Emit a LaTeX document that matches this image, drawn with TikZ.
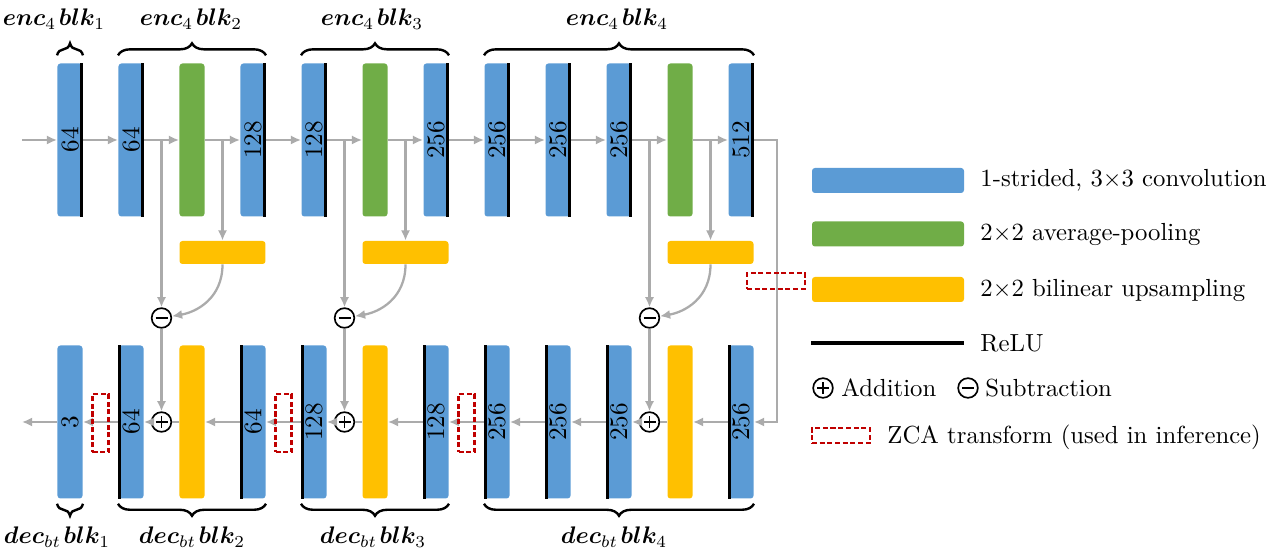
\documentclass[tikz,border=0pt]{standalone}
\usepackage{bm}
\usetikzlibrary{arrows.meta,decorations.pathreplacing}
\definecolor{cblue}{HTML}{5B9BD5}
\definecolor{cgreen}{HTML}{70AD47}
\definecolor{cyellow}{HTML}{FFC000}
\definecolor{cgrey}{HTML}{ABABAB}
\definecolor{cred}{HTML}{C00000}
\begin{document}
\begin{tikzpicture}[x=0.41667pt,y=-0.41667pt,
  bar/.style={rectangle, inner sep=0pt, minimum width=10.42pt, minimum height=63.75pt, rounded corners=1.2pt},
  convbar/.style={bar, fill=cblue},
  poolbar/.style={bar, fill=cgreen},
  upbar/.style={bar, fill=cyellow},
  uph/.style={rectangle, inner sep=0pt, minimum width=35.83pt, minimum height=9.58pt, rounded corners=1.2pt, fill=cyellow},
  num/.style={label={[rotate=90,inner sep=0pt,font=\fontsize{10.5}{12}\selectfont]center:#1}},
  relu/.style={line width=1.3pt, black},
  arr/.style={draw=cgrey, line width=0.95pt, -{Latex[length=4.2pt,width=3.8pt]}},
  ln/.style={draw=cgrey, line width=0.95pt},
  zca/.style={draw=cred, dash pattern=on 2.1pt off 1.1pt, line width=0.95pt, inner sep=0pt},
  zcav/.style={zca, minimum width=6.67pt, minimum height=24.17pt},
  zcah/.style={zca, minimum width=24.17pt, minimum height=6.5pt},
  op/.style={circle, draw, line width=0.7pt, minimum size=8.2pt, inner sep=0pt},
  plusop/.style={op, path picture={
     \draw[line width=0.7pt] ([xshift=-2.5pt]path picture bounding box.center) -- ([xshift=2.5pt]path picture bounding box.center);
     \draw[line width=0.7pt] ([yshift=-2.5pt]path picture bounding box.center) -- ([yshift=2.5pt]path picture bounding box.center);}},
  minusop/.style={op, path picture={
     \draw[line width=0.7pt] ([xshift=-2.5pt]path picture bounding box.center) -- ([xshift=2.5pt]path picture bounding box.center);}},
  brace/.style={decorate, decoration={brace, amplitude=5pt}, line width=1pt},
  lrect/.style={rectangle, inner sep=0pt, minimum width=63.33pt, minimum height=10.42pt, rounded corners=1.2pt},
  ltext/.style={anchor=west, inner sep=0pt, font=\fontsize{10.3}{12}\selectfont},
  blab/.style={inner sep=0pt, font=\fontsize{10}{12}\selectfont}
]
\useasboundingbox (0,0) rectangle (1273,552);

% encoder
\node[convbar,num=64]  (e1)  at (70,140) {};
\node[convbar,num=64]  (e2)  at (131,140) {};
\node[poolbar]         (e3)  at (192,140) {};
\node[convbar,num=128] (e4)  at (253,140) {};
\node[convbar,num=128] (e5)  at (314,140) {};
\node[poolbar]         (e6)  at (375,140) {};
\node[convbar,num=256] (e7)  at (436,140) {};
\node[convbar,num=256] (e8)  at (497,140) {};
\node[convbar,num=256] (e9)  at (558,140) {};
\node[convbar,num=256] (e10) at (619,140) {};
\node[poolbar]         (e11) at (680,140) {};
\node[convbar,num=512] (e12) at (741,140) {};
\foreach \n in {e1,e2,e4,e5,e7,e8,e9,e10,e12}
  \draw[relu] ([xshift=-0.65pt]\n.north east) -- ([xshift=-0.65pt]\n.south east);

% decoder
\node[convbar,num=3]   (d1)  at (70,422) {};
\node[convbar,num=64]  (d2)  at (131,422) {};
\node[upbar]           (d3)  at (192,422) {};
\node[convbar,num=64]  (d4)  at (253,422) {};
\node[convbar,num=128] (d5)  at (314,422) {};
\node[upbar]           (d6)  at (375,422) {};
\node[convbar,num=128] (d7)  at (436,422) {};
\node[convbar,num=256] (d8)  at (497,422) {};
\node[convbar,num=256] (d9)  at (558,422) {};
\node[convbar,num=256] (d10) at (619,422) {};
\node[upbar]           (d11) at (680,422) {};
\node[convbar,num=256] (d12) at (741,422) {};
\foreach \n in {d2,d4,d5,d7,d8,d9,d10,d12}
  \draw[relu] ([xshift=0.65pt]\n.north west) -- ([xshift=0.65pt]\n.south west);

% upsampling of the pooled maps
\node[uph] (u1) at (222.5,252.5) {};
\node[uph] (u2) at (405.5,252.5) {};
\node[uph] (u3) at (710.5,252.5) {};

% operators
\node[minusop] (m1) at (161.5,318) {};
\node[plusop]  (p1) at (161.5,422) {};
\node[minusop] (m2) at (344.5,318) {};
\node[plusop]  (p2) at (344.5,422) {};
\node[minusop] (m3) at (649.5,318) {};
\node[plusop]  (p3) at (649.5,422) {};

% branch points
\coordinate (b1) at (161.5,140);
\coordinate (b2) at (222.5,140);
\coordinate (b3) at (344.5,140);
\coordinate (b4) at (405.5,140);
\coordinate (b5) at (649.5,140);
\coordinate (b6) at (710.5,140);
\coordinate (in)  at (22,140);
\coordinate (out) at (22,422);
\coordinate (r1)  at (777,140);

% encoder flow
\draw[arr] (in) -- (e1);
\draw[arr] (e1) -- (e2);
\draw[arr] (e2) -- (e3);
\draw[arr] (e3) -- (e4);
\draw[arr] (e4) -- (e5);
\draw[arr] (e5) -- (e6);
\draw[arr] (e6) -- (e7);
\draw[arr] (e7) -- (e8);
\draw[arr] (e8) -- (e9);
\draw[arr] (e9) -- (e10);
\draw[arr] (e10) -- (e11);
\draw[arr] (e11) -- (e12);
\draw[arr] (e12) -- (r1) |- (d12.east);

% branches
\draw[arr] (b1) -- (m1);
\draw[arr] (b2) -- (u1);
\draw[arr] (u1.south) .. controls (222.5,298) and (197,312) .. (m1);
\draw[arr] (m1) -- (p1);
\draw[arr] (b3) -- (m2);
\draw[arr] (b4) -- (u2);
\draw[arr] (u2.south) .. controls (405.5,298) and (380,312) .. (m2);
\draw[arr] (m2) -- (p2);
\draw[arr] (b5) -- (m3);
\draw[arr] (b6) -- (u3);
\draw[arr] (u3.south) .. controls (710.5,298) and (685,312) .. (m3);
\draw[arr] (m3) -- (p3);

% decoder flow
\draw[arr] (d12) -- (d11);
\draw[ln]  (d11) -- (p3);
\draw[arr] (p3) -- (d10);
\draw[arr] (d10) -- (d9);
\draw[arr] (d9) -- (d8);
\draw[arr] (d8) -- (d7);
\draw[arr] (d7) -- (d6);
\draw[ln]  (d6) -- (p2);
\draw[arr] (p2) -- (d5);
\draw[arr] (d5) -- (d4);
\draw[arr] (d4) -- (d3);
\draw[ln]  (d3) -- (p1);
\draw[arr] (p1) -- (d2);
\draw[arr] (d2) -- (d1);
\draw[arr] (d1) -- (out);

% ZCA transforms
\node[zcav] (z1) at (100.5,423) {};
\node[zcav] (z2) at (283.5,423) {};
\node[zcav] (z3) at (466.5,423) {};
\node[zcah] (zh) at (776,281) {};

% braces
\draw[brace] ([yshift=3.2pt]e1.north west) -- ([yshift=3.2pt]e1.north east);
\draw[brace] ([yshift=3.2pt]e2.north west) -- ([yshift=3.2pt]e4.north east);
\draw[brace] ([yshift=3.2pt]e5.north west) -- ([yshift=3.2pt]e7.north east);
\draw[brace] ([yshift=3.2pt]e8.north west) -- ([yshift=3.2pt]e12.north east);
\draw[brace] ([yshift=-2pt]d1.south east) -- ([yshift=-2pt]d1.south west);
\draw[brace] ([yshift=-2pt]d4.south east) -- ([yshift=-2pt]d2.south west);
\draw[brace] ([yshift=-2pt]d7.south east) -- ([yshift=-2pt]d5.south west);
\draw[brace] ([yshift=-2pt]d12.south east) -- ([yshift=-2pt]d8.south west);

% block labels
\node[blab] (t1) at (54,19)  {$\bm{enc}_4\mkern2mu\bm{blk}_1$};
\node[blab] (t2) at (191,19) {$\bm{enc}_4\mkern2mu\bm{blk}_2$};
\node[blab] (t3) at (372,19) {$\bm{enc}_4\mkern2mu\bm{blk}_3$};
\node[blab] (t4) at (617,19) {$\bm{enc}_4\mkern2mu\bm{blk}_4$};
\node[blab] (s1) at (57,537)  {$\bm{dec}_{bt}\mkern2mu\bm{blk}_1$};
\node[blab] (s2) at (192,537) {$\bm{dec}_{bt}\mkern2mu\bm{blk}_2$};
\node[blab] (s3) at (373,537) {$\bm{dec}_{bt}\mkern2mu\bm{blk}_3$};
\node[blab] (s4) at (614,537) {$\bm{dec}_{bt}\mkern2mu\bm{blk}_4$};

% legend
\node[lrect, fill=cblue]   (lg1) at (888,180.5) {};
\node[ltext] (lt1) at (980,180) {1-strided, 3$\times$3 convolution};
\node[lrect, fill=cgreen]  (lg2) at (888,234) {};
\node[ltext] (lt2) at (980,234) {2$\times$2 average-pooling};
\node[lrect, fill=cyellow] (lg3) at (888,289.5) {};
\node[ltext] (lt3) at (980,290) {2$\times$2 bilinear upsampling};
\coordinate (lr1) at (811,343);
\coordinate (lr2) at (964,343);
\draw[relu] (lr1) -- (lr2);
\node[ltext] (lt4) at (980,343) {ReLU};
\node[plusop]  (la) at (823,388) {};
\node[ltext] (lta) at (841,388) {Addition};
\node[minusop] (ls) at (968,388) {};
\node[ltext] (lts) at (985,388) {Subtraction};
\node[zcah, minimum width=24.17pt, minimum height=6.25pt] (lz) at (841,435.5) {};
\node[ltext] (ltz) at (887,437) {ZCA transform (used in inference)};
\end{tikzpicture}
\end{document}
